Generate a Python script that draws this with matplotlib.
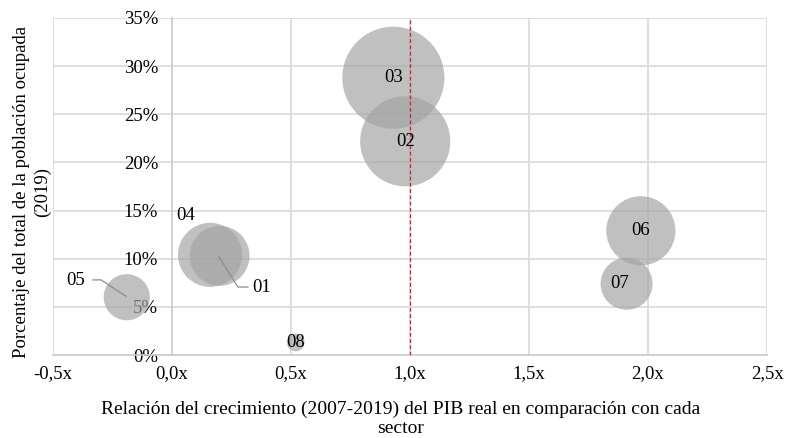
import matplotlib
matplotlib.use("Agg")
import matplotlib.pyplot as plt
import numpy as np

# Data
sectors = ["01", "02", "03", "04", "05", "06", "07", "08"]
growth_ratio = [0.20, 0.98, 0.93, 0.16, -0.19, 1.97, 1.91, 0.52]
employment_share = [10.3, 22.2, 28.8, 10.4, 6.0, 12.9, 7.4, 1.3]
bubble_size = [6.9, 15.6, 20.0, 7.9, 4.1, 9.2, 5.2, 0.6]
x_ticks = [-0.5, 0.0, 0.5, 1.0, 1.5, 2.0, 2.5]
x_tick_labels = ["-0,5x", "0,0x", "0,5x", "1,0x", "1,5x", "2,0x", "2,5x"]
y_ticks = [0, 5, 10, 15, 20, 25, 30, 35]
y_tick_labels = ["0%", "5%", "10%", "15%", "20%", "25%", "30%", "35%"]

plt.rcParams['font.family'] = ['Liberation Serif', 'DejaVu Serif']

W, H = 786, 438
fig = plt.figure(figsize=(W / 100, H / 100), dpi=100)
L, R, T, B = 53, 767, 18, 355
ax = fig.add_axes([L / W, (H - B) / H, (R - L) / W, (B - T) / H])
ax.set_xlim(-0.5, 2.5)
ax.set_ylim(0, 35)

grid_c = "#d9d9d9"
for xt in x_ticks:
    if xt != 0:
        ax.axvline(xt, color=grid_c, lw=1.2, zorder=0)
for yt in y_ticks[1:]:
    ax.axhline(yt, color=grid_c, lw=1.2, zorder=0)

for s in ["top", "right"]:
    ax.spines[s].set_visible(False)
ax.spines["left"].set_position(("data", 0))
ax.spines["left"].set_color("#c8c8c8")
ax.spines["bottom"].set_color("#c8c8c8")
ax.spines["left"].set_linewidth(1.2)
ax.spines["bottom"].set_linewidth(1.2)

ax.axvline(1.0, color="#d0202c", lw=0.9, ls=(0, (3, 2)), zorder=3)

k = 270
ax.scatter(growth_ratio, employment_share, s=np.array(bubble_size) * k,
           color="#a3a3a3", alpha=0.68, edgecolors="none", zorder=2)

fs = 13.5
offsets = {"01": (0.378, 7.06), "04": (0.059, 14.5), "05": (-0.403, 7.7),
           "07": (1.882, 7.4)}
for name, xv, yv in zip(sectors, growth_ratio, employment_share):
    lx, ly = offsets.get(name, (xv, yv))
    ax.text(lx, ly, name, ha="center", va="center", fontsize=fs, zorder=5)

ax.plot([-0.332, -0.298, -0.193], [7.8, 7.8, 6.1], color="#8c8c8c", lw=0.9, zorder=4)
ax.plot([0.197, 0.277, 0.319], [10.2, 7.06, 7.06], color="#8c8c8c", lw=0.9, zorder=4)

ax.set_xticks(x_ticks)
ax.set_xticklabels(x_tick_labels, fontsize=fs)
ax.set_yticks(y_ticks)
ax.set_yticklabels(y_tick_labels, fontsize=fs)
ax.tick_params(axis="both", length=0)
ax.tick_params(axis="y", pad=10)
ax.tick_params(axis="x", pad=7)

fig.text(401 / W, 1 - 419 / H,
         "Relación del crecimiento (2007-2019) del PIB real en comparación con cada\nsector",
         ha="center", va="center", fontsize=14, linespacing=1.2)
fig.text(32 / W, 1 - 192 / H,
         "Porcentaje del total de la población ocupada\n(2019)",
         ha="center", va="center", rotation=90, fontsize=13.5, linespacing=1.25)

fig.savefig("out.png", dpi=100)
